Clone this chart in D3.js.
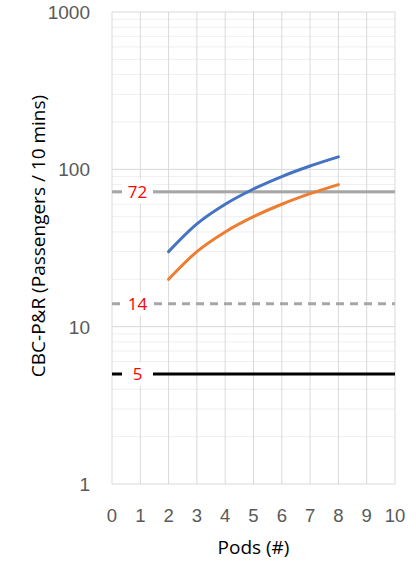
<!DOCTYPE html>
<html>
<head>
<meta charset="utf-8">
<script src="https://cdn.jsdelivr.net/npm/d3@7"></script>
<style>
  body { margin: 0; background: #fff; }
  text { font-family: "Open Sans", sans-serif; }
  .tick { font-family: "Liberation Sans", Arial, sans-serif; }
</style>
</head>
<body>
<script>
// data
const pods = [2, 3, 4, 5, 6, 7, 8];
const blueSeries = [30, 45, 60, 75, 90, 105, 120];
const orangeSeries = [20, 30, 40, 50, 60, 70, 80];
const xTicks = [0, 1, 2, 3, 4, 5, 6, 7, 8, 9, 10];
const yTicks = [1, 10, 100, 1000];
const refValues = [72, 14, 5];
const refLabels = ["72", "14", "5"];

//SVG size
const w = 416;
const h = 563;

//plot area
const plotLeft = 112, plotRight = 395, plotTop = 12, plotBottom = 484;

const svg = d3.select("body").append("svg").attr("width", w).attr("height", h);

const x = d3.scaleLinear().domain([0, 10]).range([plotLeft, plotRight]);
const y = d3.scaleLog().domain([1, 1000]).range([plotBottom, plotTop]);

// minor horizontal gridlines
const minor = [];
[1, 10, 100].forEach((d) => {
  for (let k = 2; k <= 9; k++) minor.push(d * k);
});
svg.append("g").selectAll("line").data(minor).enter().append("line")
  .attr("x1", plotLeft).attr("x2", plotRight)
  .attr("y1", (d) => y(d)).attr("y2", (d) => y(d))
  .attr("stroke", "#efefef").attr("stroke-width", 1);

// major horizontal gridlines
svg.append("g").selectAll("line").data(yTicks).enter().append("line")
  .attr("x1", plotLeft).attr("x2", plotRight)
  .attr("y1", (d) => y(d)).attr("y2", (d) => y(d))
  .attr("stroke", "#d9d9d9").attr("stroke-width", 1);

// vertical gridlines
svg.append("g").selectAll("line").data(xTicks).enter().append("line")
  .attr("x1", (d) => x(d)).attr("x2", (d) => x(d))
  .attr("y1", plotTop).attr("y2", plotBottom)
  .attr("stroke", "#d9d9d9").attr("stroke-width", 1);

// tick labels
svg.append("g").selectAll("text").data(yTicks).enter().append("text")
  .attr("class", "tick")
  .attr("x", 90).attr("y", (d) => y(d) + 7)
  .attr("text-anchor", "end")
  .attr("font-size", 19).attr("fill", "#595959")
  .text((d) => d);

svg.append("g").selectAll("text").data(xTicks).enter().append("text")
  .attr("class", "tick")
  .attr("x", (d) => x(d)).attr("y", 522)
  .attr("text-anchor", "middle")
  .attr("font-size", 18.5).attr("fill", "#595959")
  .text((d) => d);

// axis titles
svg.append("text")
  .attr("x", x(5)).attr("y", 554)
  .attr("text-anchor", "middle").attr("font-size", 19).attr("fill", "#000")
  .text("Pods (#)");

svg.append("text")
  .attr("transform", "translate(45,236) rotate(-90)")
  .attr("text-anchor", "middle").attr("font-size", 19).attr("fill", "#000")
  .text("CBC-P&R (Passengers / 10 mins)");

// reference lines
const refStyles = [
  { stroke: "#a6a6a6", dash: null },
  { stroke: "#a6a6a6", dash: "8,6" },
  { stroke: "#000000", dash: null },
];
refValues.forEach((v, i) => {
  svg.append("line")
    .attr("x1", plotLeft).attr("x2", plotRight)
    .attr("y1", y(v)).attr("y2", y(v))
    .attr("stroke", refStyles[i].stroke).attr("stroke-width", 3)
    .attr("stroke-dasharray", refStyles[i].dash);
});

// series
const line = d3.line()
  .x((d) => x(d[0]))
  .y((d) => y(d[1]))
  .curve(d3.curveMonotoneX);

[[blueSeries, "#4472c4"], [orangeSeries, "#ed7d31"]].forEach(([s, c]) => {
  svg.append("path")
    .datum(pods.map((p, i) => [p, s[i]]))
    .attr("d", line)
    .attr("fill", "none").attr("stroke", c).attr("stroke-width", 3)
    .attr("stroke-linecap", "round");
});

// reference labels
refValues.forEach((v, i) => {
  svg.append("rect")
    .attr("x", 122).attr("y", y(v) - 12)
    .attr("width", 31).attr("height", 24)
    .attr("fill", "#fff");
  svg.append("text")
    .attr("x", 137.5).attr("y", y(v) + 6)
    .attr("text-anchor", "middle").attr("font-size", 17).attr("fill", "#ff0000")
    .text(refLabels[i]);
});
</script>
</body>
</html>
